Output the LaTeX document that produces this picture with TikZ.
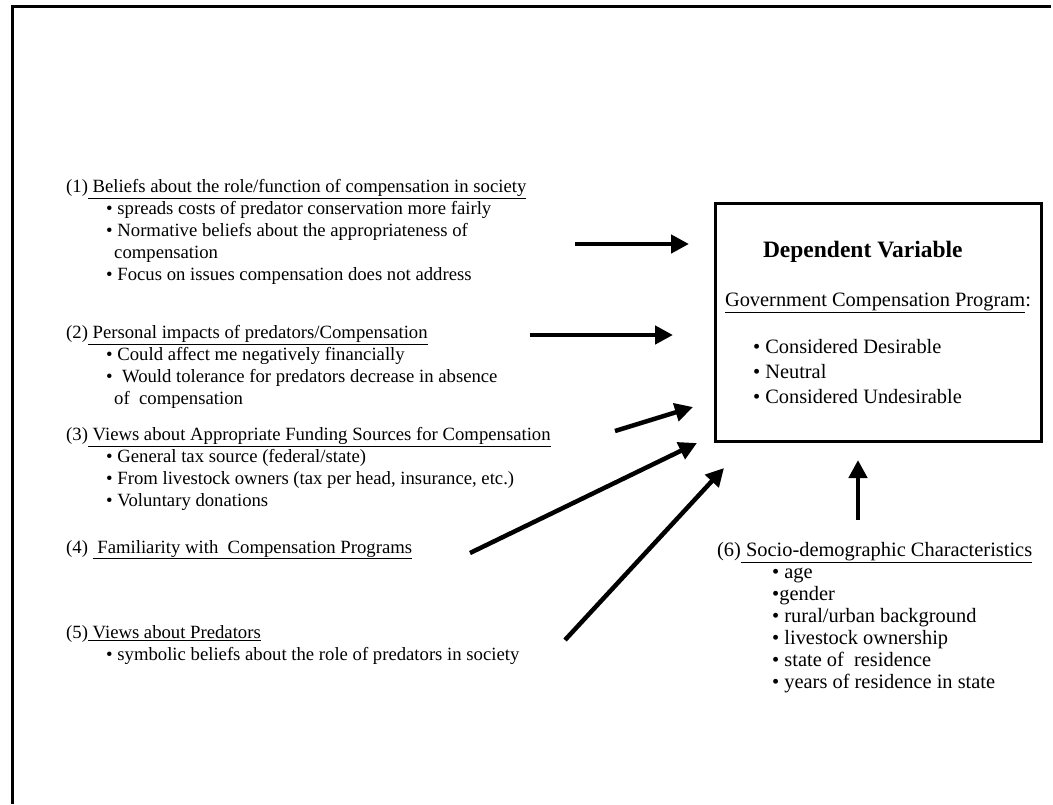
\documentclass[tikz,border=0pt]{standalone}
\usepackage{fontspec}
\setmainfont{Liberation Serif}
\usetikzlibrary{arrows.meta}

\newcommand{\lsize}{\fontsize{18.7}{22}\selectfont}
\newcommand{\rsize}{\fontsize{20.4}{22}\selectfont}

\begin{document}
\begin{tikzpicture}[x=1pt,y=-1pt,
    grp/.style={anchor=north west,inner sep=0pt,align=left,font=\lsize},
    arr/.style={line width=4.5pt,-{Triangle[length=18pt,width=18pt]}}]
  \useasboundingbox (0,0) rectangle (1053,804);
  % frame (left and top only)
  \draw[line width=3pt] (12,804) -- (12,6) -- (1051,6);

  % factors
  \node[grp] (g1) at (66,179) {(1)\underline{\ Beliefs about the role/function of compensation in society}\\
    \hspace*{40pt}\textbullet\ spreads costs of predator conservation more fairly\\
    \hspace*{40pt}\textbullet\ Normative beliefs about the appropriateness of\\
    \hspace*{48pt}compensation\\
    \hspace*{40pt}\textbullet\ Focus on issues compensation does not address};
  \node[grp] (g2) at (66,325) {(2)\underline{\ Personal impacts of predators/Compensation}\\
    \hspace*{40pt}\textbullet\ Could affect me negatively financially\\
    \hspace*{40pt}\textbullet\ \ Would tolerance for predators decrease in absence\\
    \hspace*{48pt}of\ \ compensation};
  \node[grp] (g3) at (66,427) {(3)\underline{\ Views about Appropriate Funding Sources for Compensation}\\
    \hspace*{40pt}\textbullet\ General tax source (federal/state)\\
    \hspace*{40pt}\textbullet\ From livestock owners (tax per head, insurance, etc.)\\
    \hspace*{40pt}\textbullet\ Voluntary donations};
  \node[grp] (g4) at (66,540) {(4) \underline{\ Familiarity with\ \ Compensation Programs}};
  \node[grp] (g5) at (66,625) {(5)\underline{\ Views about Predators}\\
    \hspace*{40pt}\textbullet\ symbolic beliefs about the role of predators in society};
  \node[grp,font=\rsize] (g6) at (717,542) {(6)\underline{\ Socio-demographic Characteristics}\\
    \hspace*{55pt}\textbullet\ age\\
    \hspace*{55pt}\textbullet gender\\
    \hspace*{55pt}\textbullet\ rural/urban background\\
    \hspace*{55pt}\textbullet\ livestock ownership\\
    \hspace*{55pt}\textbullet\ state of\ \ residence\\
    \hspace*{55pt}\textbullet\ years of residence in state};

  % dependent variable
  \node[draw,line width=3pt,minimum width=326pt,minimum height=238pt,inner sep=0pt,
    align=left,font=\fontsize{20.4}{25}\selectfont] (dv) at (878,322)
    {\hspace*{38pt}{\fontsize{23.5}{25}\selectfont\bfseries Dependent Variable}\\[24pt]
     \underline{Government Compensation Program}:\\[22pt]
     \hspace*{28pt}\textbullet\ Considered Desirable\\
     \hspace*{28pt}\textbullet\ Neutral\\
     \hspace*{28pt}\textbullet\ Considered Undesirable};

  % arrow ends
  \coordinate (s1) at (575,244);  \coordinate (e1) at (689,244);
  \coordinate (s2) at (530,335);  \coordinate (e2) at (673,335);
  \coordinate (s3) at (615,431);  \coordinate (e3) at (693,407);
  \coordinate (s4) at (470,553);  \coordinate (e4) at (697,443);
  \coordinate (s5) at (565,640);  \coordinate (e5) at (724,468);
  \coordinate (s6) at (858,520);  \coordinate (e6) at (858,460);
  \foreach \i in {1,...,6}
    \draw[arr] (s\i) -- (e\i);
\end{tikzpicture}
\end{document}
